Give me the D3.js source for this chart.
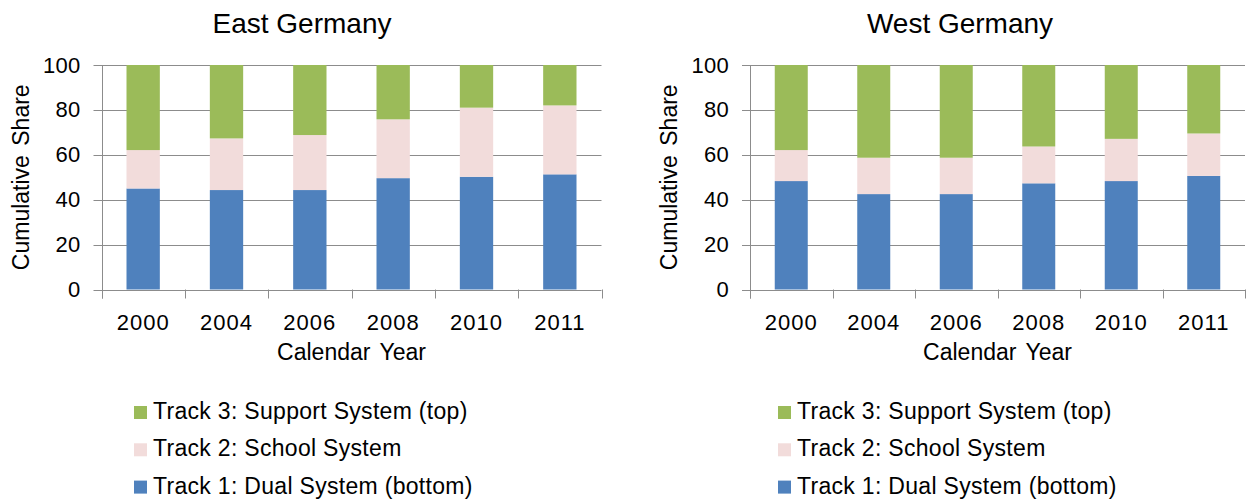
<!DOCTYPE html>
<html>
<head>
<meta charset="utf-8">
<script src="https://cdn.jsdelivr.net/npm/d3@7"></script>
<style>
	body { margin: 0; background: #fff; }
	svg text { font-family: "Liberation Sans", Arial, sans-serif; fill: #000; }
</style>
</head>
<body>
<svg id="container" width="1253" height="504"></svg>
<script>
// years on the x axis
const years = ['2000', '2004', '2006', '2008', '2010', '2011'];
const yTicks = [0, 20, 40, 60, 80, 100];

// share of each track (percent)
const eastDual    = [45.0, 44.3, 44.3, 49.6, 50.2, 51.3];
const eastSchool  = [17.1, 23.0, 24.5, 26.2, 30.8, 30.7];
const eastSupport = [37.9, 32.7, 31.2, 24.2, 19.0, 18.0];

const westDual    = [48.3, 42.5, 42.5, 47.3, 48.3, 50.6];
const westSchool  = [13.8, 16.2, 16.2, 16.4, 18.8, 18.9];
const westSupport = [37.9, 41.3, 41.3, 36.3, 32.9, 30.5];

const keys = ['dual', 'school', 'support'];
const colors = { dual: '#4F81BD', school: '#F2DCDB', support: '#9BBB59' };
const legendLabels = {
	support: 'Track 3: Support System (top)',
	school: 'Track 2: School System',
	dual: 'Track 1: Dual System (bottom)'
};

function buildRows(dual, school, support) {
	return years.map((y, i) => ({ year: y, dual: dual[i], school: school[i], support: support[i] }));
}

const svg = d3.select('#container');

function drawPanel(opts) {
	const rows = buildRows(opts.dual, opts.school, opts.support);
	const left = opts.left, right = opts.right, top = 65, bottom = 289.5;

	const x = d3.scaleBand().domain(years).range([left, right])
		.paddingInner(0.6).paddingOuter(0.3);
	const y = d3.scaleLinear().domain([0, 100]).range([bottom, top]);
	const step = x.step();

	const g = svg.append('g');

	// gridlines
	g.selectAll('.grid')
		.data(yTicks)
		.enter()
		.append('line')
		.attr('x1', left - 8)
		.attr('x2', right)
		.attr('y1', d => Math.round(y(d)) + 0.5)
		.attr('y2', d => Math.round(y(d)) + 0.5)
		.attr('stroke', '#8c8c8c')
		.attr('stroke-width', 1);

	// stacked bars
	const series = d3.stack().keys(keys)(rows);
	g.selectAll('.layer')
		.data(series)
		.enter()
		.append('g')
		.attr('fill', d => colors[d.key])
		.selectAll('rect')
		.data(d => d)
		.enter()
		.append('rect')
		.attr('x', d => x(d.data.year))
		.attr('width', x.bandwidth())
		.attr('y', d => y(d[1]))
		.attr('height', d => y(d[0]) - y(d[1]));

	// y axis line
	g.append('line')
		.attr('x1', Math.round(left) + 0.5).attr('x2', Math.round(left) + 0.5)
		.attr('y1', top).attr('y2', bottom + 9)
		.attr('stroke', '#8c8c8c');

	// x tick marks at band edges
	g.selectAll('.xtick')
		.data(d3.range(years.length + 1))
		.enter()
		.append('line')
		.attr('x1', i => Math.round(left + i * step) + 0.5)
		.attr('x2', i => Math.round(left + i * step) + 0.5)
		.attr('y1', bottom)
		.attr('y2', bottom + 9)
		.attr('stroke', '#8c8c8c');

	// y tick labels
	g.selectAll('.ylab')
		.data(yTicks)
		.enter()
		.append('text')
		.attr('x', left - 21)
		.attr('y', d => y(d) + 7.5)
		.attr('text-anchor', 'end')
		.style('font-size', '22px')
		.style('letter-spacing', '0.3px')
		.text(d => d);

	// x tick labels
	g.selectAll('.xlab')
		.data(years)
		.enter()
		.append('text')
		.attr('x', d => x(d) + x.bandwidth() / 2)
		.attr('y', 330)
		.attr('text-anchor', 'middle')
		.style('font-size', '22px')
		.style('letter-spacing', '1px')
		.text(d => d);

	// axis titles
	g.append('text')
		.attr('x', (left + right) / 2)
		.attr('y', 360)
		.attr('text-anchor', 'middle')
		.style('font-size', '23px')
		.style('word-spacing', '3px')
		.text('Calendar Year');

	g.append('text')
		.attr('transform', 'translate(' + (left - 73) + ',' + ((top + bottom) / 2) + ') rotate(-90)')
		.attr('text-anchor', 'middle')
		.style('font-size', '23px')
		.style('word-spacing', '3px')
		.text('Cumulative Share');

	// chart title
	g.append('text')
		.attr('x', opts.titleX)
		.attr('y', 33)
		.attr('text-anchor', 'middle')
		.style('font-size', '28px')
		.text(opts.title);

	// legend
	const order = ['support', 'school', 'dual'];
	const leg = g.selectAll('.leg')
		.data(order)
		.enter()
		.append('g')
		.attr('transform', (d, i) => 'translate(' + opts.legendX + ',' + (419 + i * 37.3) + ')');
	leg.append('rect')
		.attr('x', 0).attr('y', -13)
		.attr('width', 13).attr('height', 13)
		.attr('fill', d => colors[d]);
	leg.append('text')
		.attr('x', 19)
		.attr('y', 0)
		.style('font-size', '23px')
		.style('letter-spacing', '0.3px')
		.text(d => legendLabels[d]);
}

drawPanel({
	title: 'East Germany', titleX: 302, left: 101.5, right: 601.5, legendX: 134,
	dual: eastDual, school: eastSchool, support: eastSupport
});
drawPanel({
	title: 'West Germany', titleX: 960, left: 750, right: 1245, legendX: 778,
	dual: westDual, school: westSchool, support: westSupport
});
</script>
</body>
</html>
